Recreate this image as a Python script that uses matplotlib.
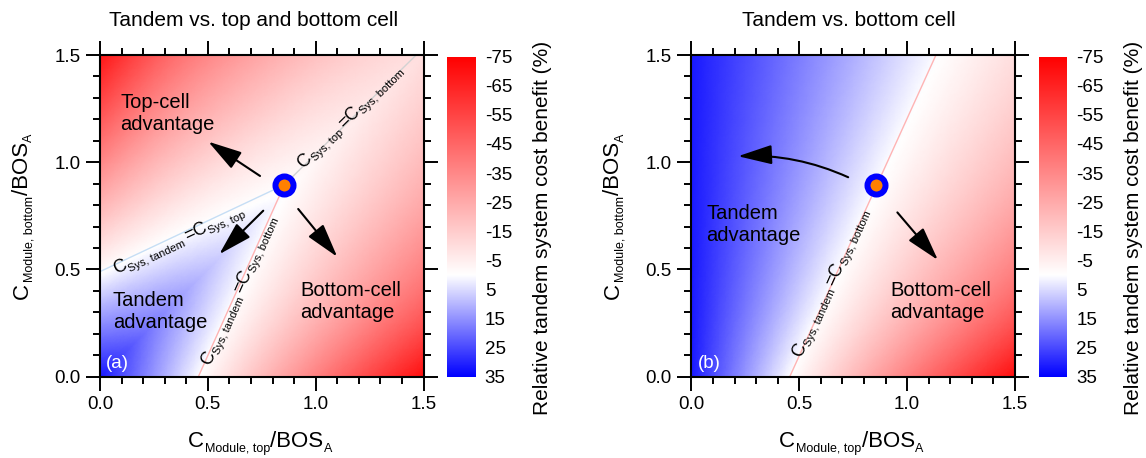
import numpy as np
import matplotlib
matplotlib.use('Agg')
import matplotlib.pyplot as plt
import matplotlib.tri as mtri
import matplotlib.cm as cm
from matplotlib.colors import LinearSegmentedColormap, Normalize
from matplotlib.ticker import MultipleLocator
from matplotlib.font_manager import FontProperties
from matplotlib.transforms import offset_copy

plt.rcParams['font.family'] = ['Liberation Sans', 'DejaVu Sans']
plt.rcParams['axes.unicode_minus'] = False

# ---------------- data ----------------
grid_x = [0.0, 0.25, 0.5, 0.75, 1.0, 1.25, 1.5]
grid_y = [0.0, 0.25, 0.5, 0.75, 1.0, 1.25, 1.5]

# relative tandem system cost benefit (%), rows = y (bottom to top), cols = x
benefit_a = [
    [31.5, 14.4, -2.7, -19.9, -37.0, -54.1, -71.2],
    [15.5, 17.8, 4.1, -9.6, -23.3, -37.0, -50.7],
    [-1.4, 5.4, 8.7, -2.7, -14.2, -25.6, -37.0],
    [-18.3, -8.1, -1.4, 2.2, -7.6, -17.4, -27.2],
    [-35.1, -21.6, -12.6, -6.2, -2.7, -11.3, -19.9],
    [-52.0, -35.1, -23.9, -15.8, -9.8, -6.5, -14.2],
    [-68.9, -48.7, -35.1, -25.5, -18.3, -12.6, -9.6],
]
benefit_b = [
    [31.5, 14.4, -2.7, -19.9, -37.0, -54.1, -71.2],
    [31.5, 17.8, 4.1, -9.6, -23.3, -37.0, -50.7],
    [31.5, 20.1, 8.7, -2.7, -14.2, -25.6, -37.0],
    [31.5, 21.7, 11.9, 2.2, -7.6, -17.4, -27.2],
    [31.5, 22.9, 14.4, 5.8, -2.7, -11.3, -19.9],
    [31.5, 23.9, 16.3, 8.7, 1.1, -6.5, -14.2],
    [31.5, 24.7, 17.8, 11.0, 4.1, -2.7, -9.6],
]

cbar_ticks = [-75, -65, -55, -45, -35, -25, -15, -5, 5, 15, 25, 35]

point_x, point_y = 0.855, 0.895

# boundary lines
tandem_bottom_a_x = [0.456, 0.855]
tandem_bottom_a_y = [0.0, 0.895]
tandem_top_a_x = [0.0, 0.855]
tandem_top_a_y = [0.49, 0.895]
top_bottom_a_x = [0.855, 1.466]
top_bottom_a_y = [0.895, 1.5]
tandem_bottom_b_x = [0.456, 1.134]
tandem_bottom_b_y = [0.0, 1.5]

# arrows (tail -> tip)
arrows_a = [((0.742, 0.936), (0.502, 1.096)),
            ((0.757, 0.774), (0.553, 0.571)),
            ((0.919, 0.782), (1.100, 0.559))]
arrows_b = [((0.727, 0.930), (0.216, 1.028), 0.12),
            ((0.955, 0.766), (1.143, 0.544), 0.0)]

# ---------------- figure ----------------
W, H = 1146, 458
fig = plt.figure(figsize=(W / 100, H / 100), dpi=100)
renderer = fig.canvas.get_renderer()

cmap = LinearSegmentedColormap.from_list(
    'rwb', [(0.0, '#ff0000'), (75 / 110, '#ffffff'), (1.0, '#0000ff')], N=1024)
norm = Normalize(vmin=-75, vmax=35)

X, Y = np.meshgrid(grid_x, grid_y)
nx, ny = len(grid_x), len(grid_y)
tri_lower, tri_upper = [], []   # split each cell along its rising diagonal
for j in range(ny - 1):
    for i in range(nx - 1):
        k = j * nx + i
        lo = [k, k + 1, k + nx + 1]
        up = [k, k + nx + 1, k + nx]
        if i > j:
            tri_lower += [lo, up]
        elif i < j:
            tri_upper += [lo, up]
        else:
            tri_lower.append(lo)
            tri_upper.append(up)
tri_all = tri_lower + tri_upper

TICK_FS = 13.5
MAIN_FS = 16
SUB_FS = 9
REG_FS = 14.5
LINE_FS = 13
LSUB_FS = 8


def px(x):
    return x / W


def py(y):
    return 1 - y / H


def text_width_pt(s, size):
    prop = FontProperties(family='Liberation Sans', size=size)
    w, h, d = renderer.get_text_width_height_descent(s, prop, ismath=False)
    return w * 72.0 / fig.dpi


def rich_text(trans, x, y, pieces, angle=0.0, center=False, zorder=5):
    """pieces: (text, fontsize, baseline shift [pt], gap before [pt])"""
    widths = [text_width_pt(s, fs) for s, fs, _, _ in pieces]
    total = sum(widths) + sum(g for _, _, _, g in pieces)
    adv = -total / 2 if center else 0.0
    ca, sa = np.cos(np.radians(angle)), np.sin(np.radians(angle))
    for (s, fs, sh, gap), w in zip(pieces, widths):
        adv += gap
        dx = adv * ca - sh * sa
        dy = adv * sa + sh * ca
        t = offset_copy(trans, fig=fig, x=dx, y=dy, units='points')
        fig.text(x, y, s, transform=t, fontsize=fs, rotation=angle,
                 rotation_mode='anchor', ha='left', va='baseline', zorder=zorder)
        adv += w


def draw_field(ax, Z, tri_sets):
    z = np.asarray(Z, dtype=float).ravel()
    xs, ys = X.ravel(), Y.ravel()
    for tset in tri_sets:
        t = np.asarray(tset)
        used = np.unique(t)
        remap = -np.ones(len(xs), dtype=int)
        remap[used] = np.arange(len(used))
        tr = mtri.Triangulation(xs[used], ys[used], remap[t])
        tr_f, z_f = mtri.UniformTriRefiner(tr).refine_field(z[used], subdiv=4)
        ax.tripcolor(tr_f, z_f, shading='gouraud', cmap=cmap, norm=norm, zorder=0)


def style_axes(ax):
    ax.set_xlim(0, 1.5)
    ax.set_ylim(0, 1.5)
    ax.xaxis.set_major_locator(MultipleLocator(0.5))
    ax.yaxis.set_major_locator(MultipleLocator(0.5))
    ax.xaxis.set_minor_locator(MultipleLocator(0.1))
    ax.yaxis.set_minor_locator(MultipleLocator(0.1))
    ax.tick_params(which='both', direction='out', top=True, right=True,
                   width=1.4, labelsize=TICK_FS)
    ax.tick_params(which='major', length=10, pad=4)
    ax.tick_params(which='minor', length=5)
    for s in ax.spines.values():
        s.set_linewidth(1.5)


def axis_labels(offset_px):
    xl = [('C', MAIN_FS, 0, 0), ('Module, top', SUB_FS, -3.3, 0.6),
          ('/BOS', MAIN_FS, 0, 0.3), ('A', SUB_FS, -3.3, 0.4)]
    yl = [('C', MAIN_FS, 0, 0), ('Module, bottom', SUB_FS, -3.3, 0.6),
          ('/BOS', MAIN_FS, 0, 0.3), ('A', SUB_FS, -3.3, 0.4)]
    rich_text(fig.transFigure, px(260 + offset_px), py(447), xl, 0, center=True)
    rich_text(fig.transFigure, px(27.5 + offset_px), py(216), yl, 90, center=True)


def line_label(ax, x, y, lx, ly, sub1, sub2):
    p = ax.transData.transform([[lx[0], ly[0]], [lx[1], ly[1]]])
    ang = np.degrees(np.arctan2(p[1, 1] - p[0, 1], p[1, 0] - p[0, 0]))
    pieces = [('C', LINE_FS, 0, 0), (sub1, LSUB_FS, -2.6, 0.5),
              ('=C', LINE_FS, 0, 2.2), (sub2, LSUB_FS, -2.6, 0.5)]
    trans = ax.transData
    widths = None
    rich_text_ax(ax, x, y, pieces, ang)


def rich_text_ax(ax, x, y, pieces, angle):
    widths = [text_width_pt(s, fs) for s, fs, _, _ in pieces]
    adv = 0.0
    ca, sa = np.cos(np.radians(angle)), np.sin(np.radians(angle))
    for (s, fs, sh, gap), w in zip(pieces, widths):
        adv += gap
        dx = adv * ca - sh * sa
        dy = adv * sa + sh * ca
        t = offset_copy(ax.transData, fig=fig, x=dx, y=dy, units='points')
        ax.text(x, y, s, transform=t, fontsize=fs, rotation=angle,
                rotation_mode='anchor', ha='left', va='baseline', zorder=4)
        adv += w


def add_colorbar(left_px):
    cax = fig.add_axes([px(left_px), py(376.7), px(28.4), (376.7 - 56.7) / H])
    sm = cm.ScalarMappable(norm=norm, cmap=cmap)
    cb = fig.colorbar(sm, cax=cax, ticks=cbar_ticks)
    cb.outline.set_visible(False)
    cax.invert_yaxis()
    cax.tick_params(length=0, labelsize=TICK_FS, pad=6.5)
    return cb


def arrow(ax, tail, tip, rad=0.0):
    ax.annotate('', xy=tip, xytext=tail,
                arrowprops=dict(arrowstyle='-|>,head_length=1.05,head_width=0.3',
                                mutation_scale=20, lw=1.5, color='k',
                                shrinkA=0, shrinkB=0,
                                connectionstyle=f'arc3,rad={rad}'),
                zorder=6)


panels = [(100.0, benefit_a, [tri_lower, tri_upper],
           'Tandem vs. top and bottom cell', '(a)', 254),
          (691.4, benefit_b, [tri_all],
           'Tandem vs. bottom cell', '(b)', 848.6)]

axes = []
for left, Z, tsets, title, plabel, tcx in panels:
    ax = fig.add_axes([px(left), py(376.7), px(323.5), (376.7 - 55) / H])
    draw_field(ax, Z, tsets)
    style_axes(ax)
    ax.text(0.029, 0.04, plabel, color='white', fontsize=TICK_FS,
            ha='left', va='baseline', zorder=7)
    fig.text(px(tcx), py(26), title, fontsize=15, ha='center', va='baseline')
    axis_labels(left - 100.0)
    axes.append(ax)

axa, axb = axes

# ---- panel (a) ----
axa.plot(top_bottom_a_x, top_bottom_a_y, color='#d2d2d2', lw=1.0, zorder=2)
axa.plot(tandem_top_a_x, tandem_top_a_y, color='#c6def5', lw=1.0, zorder=2)
axa.plot(tandem_bottom_a_x, tandem_bottom_a_y, color='#ffb4b4', lw=1.0, zorder=2)
axa.plot(point_x, point_y, 'o', ms=13, mfc='#ff8000', mec='#0000ff', mew=4.3, zorder=8)
for tail, tip in arrows_a:
    arrow(axa, tail, tip)

line_label(axa, 0.943, 0.970, top_bottom_a_x, top_bottom_a_y, 'Sys, top', 'Sys, bottom')
line_label(axa, 0.074, 0.477, tandem_top_a_x, tandem_top_a_y, 'Sys, tandem', 'Sys, top')
line_label(axa, 0.510, 0.051, tandem_bottom_a_x, tandem_bottom_a_y, 'Sys, tandem', 'Sys, bottom')

# multi-line texts: anchor = baseline of the last line
axa.text(0.093, 1.149, 'Top-cell\nadvantage', fontsize=REG_FS, ha='left', va='baseline')
axa.text(0.059, 0.226, 'Tandem\nadvantage', fontsize=REG_FS, ha='left', va='baseline')
axa.text(0.930, 0.272, 'Bottom-cell\nadvantage', fontsize=REG_FS, ha='left', va='baseline')

# ---- panel (b) ----
axb.plot(tandem_bottom_b_x, tandem_bottom_b_y, color='#ffb4b4', lw=1.0, zorder=2)
axb.plot(point_x, point_y, 'o', ms=13, mfc='#ff8000', mec='#0000ff', mew=4.3, zorder=8)
for tail, tip, rad in arrows_b:
    arrow(axb, tail, tip, rad)
line_label(axb, 0.511, 0.086, tandem_bottom_b_x, tandem_bottom_b_y, 'Sys, tandem', 'Sys, bottom')
axb.text(0.068, 0.634, 'Tandem\nadvantage', fontsize=REG_FS, ha='left', va='baseline')
axb.text(0.923, 0.272, 'Bottom-cell\nadvantage', fontsize=REG_FS, ha='left', va='baseline')

# ---- colorbars ----
for cleft, lab_x in [(447.3, 542), (1038.7, 1133.4)]:
    add_colorbar(cleft)
    fig.text(px(lab_x), py(228), 'Relative tandem system cost benefit (%)',
             fontsize=15, rotation=90, ha='center', va='center')

fig.savefig('out.png', dpi=100)
